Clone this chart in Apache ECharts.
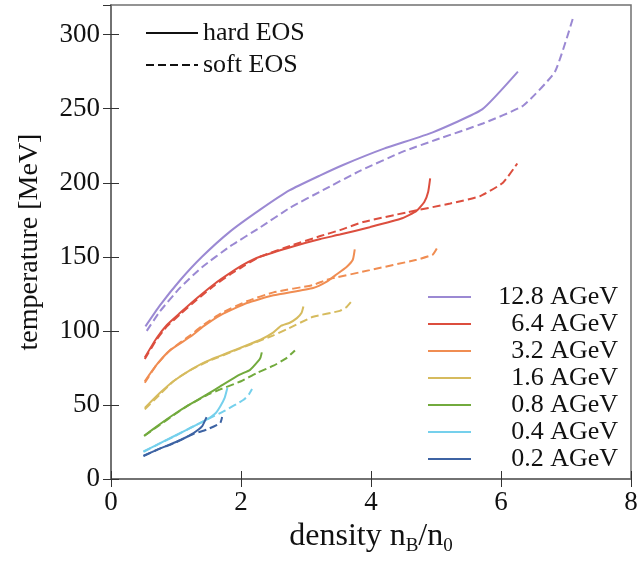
<!DOCTYPE html>
<html>
<head>
<meta charset="utf-8">
<script src="https://cdn.jsdelivr.net/npm/echarts@6/dist/echarts.min.js"></script>
<style>
  html, body { margin: 0; padding: 0; background: #ffffff; }
  #chart { width: 641px; height: 562px; }
</style>
</head>
<body>
<div id="chart"></div>
<script>
// Beam energies, top to bottom in the legend
const energies = ['12.8 AGeV', '6.4 AGeV', '3.2 AGeV', '1.6 AGeV', '0.8 AGeV', '0.4 AGeV', '0.2 AGeV'];
const colors = ['#9b89d3', '#dc4e3e', '#f08d52', '#d6bb5e', '#72aa3d', '#75d0ec', '#3d63a3'];

// Trajectories: [density n_B/n_0, temperature MeV]
const hard_12_8 = [[0.53,103],[0.75,117],[1.06,134],[1.4,150],[1.83,167],[2.3,182],[2.75,195],[3.22,205],[3.57,212],[4.2,223],[4.95,234],[5.71,249.5],[6.26,275]];
const soft_12_8 = [[0.55,100],[0.75,113],[1.06,129],[1.4,143],[1.83,157],[2.3,170],[2.75,183],[3.26,195],[3.83,208],[4.49,221],[5.0,229],[5.72,240],[6.34,252],[6.83,275],[7.12,313]];

const hard_6_4 = [[0.52,82],[0.7,95],[0.86,104],[1.06,112],[1.32,122],[1.6,132],[1.83,139],[2.05,145],[2.29,150],[2.8,157],[3.22,162],[3.52,165],[3.98,170],[4.48,176],[4.7,181],[4.82,187],[4.88,194],[4.91,203]];
const soft_6_4 = [[0.52,81],[0.7,94],[0.86,103],[1.06,111],[1.32,121],[1.6,131],[1.83,138],[2.05,144],[2.29,150],[2.8,158],[3.22,164],[3.52,168],[3.88,173.5],[4.55,180],[5.22,186],[5.68,191],[6.03,200],[6.25,213]];

const hard_3_2 = [[0.52,66],[0.7,77],[0.91,87],[1.22,96],[1.42,103],[1.7,111],[2.09,118.8],[2.5,124],[3.11,129],[3.32,133.3],[3.45,137.5],[3.62,143],[3.72,148],[3.75,155]];
const soft_3_2 = [[0.52,65],[0.7,77],[0.91,87],[1.22,97],[1.42,104],[1.7,112],[2.09,120],[2.5,126],[3.11,131],[3.32,134.5],[3.98,141],[4.7,148],[4.95,151.5],[5.03,157]];

const hard_1_6 = [[0.52,48],[0.75,58],[0.96,66],[1.2,73],[1.47,79.4],[1.98,88.4],[2.3,94],[2.5,99],[2.62,103.5],[2.75,105.5],[2.86,108.6],[2.93,112],[2.96,116.5]];
const soft_1_6 = [[0.52,47],[0.75,57],[0.96,66],[1.2,73],[1.47,79],[1.98,88],[2.5,97],[2.7,101],[3.11,109.5],[3.52,113.5],[3.62,116],[3.7,120]];

const hard_0_8 = [[0.51,29.2],[0.75,37],[0.96,43.4],[1.2,50],[1.47,56.9],[1.68,62.5],[1.98,70.4],[2.14,73.7],[2.26,79.4],[2.3,82],[2.32,85.5]];
const soft_0_8 = [[0.51,29],[0.75,36.5],[0.96,43],[1.2,50],[1.47,56.5],[1.68,60.5],[2.0,66],[2.24,71.5],[2.5,76.5],[2.7,81.6],[2.83,86.8]];

const hard_0_4 = [[0.5,18.6],[0.75,24],[0.96,28.7],[1.2,34],[1.47,40],[1.6,44],[1.68,49],[1.75,55],[1.79,61.4]];
const soft_0_4 = [[0.5,18.3],[0.75,24],[0.96,28.5],[1.2,34],[1.47,40],[1.73,45.6],[2.04,53.5],[2.12,57],[2.17,60.7]];

const hard_0_2 = [[0.5,15.7],[0.75,20.5],[0.96,24.3],[1.1,27],[1.27,31],[1.4,35.5],[1.47,41.8]];
const soft_0_2 = [[0.5,15.5],[0.75,20.5],[0.96,24],[1.27,30.5],[1.47,33.3],[1.68,37.8],[1.71,41.8]];

const hardSets = [hard_12_8, hard_6_4, hard_3_2, hard_1_6, hard_0_8, hard_0_4, hard_0_2];
const softSets = [soft_12_8, soft_6_4, soft_3_2, soft_1_6, soft_0_8, soft_0_4, soft_0_2];

// Axis ticks
const xTicks = [0, 2, 4, 6, 8];
const yTicks = [0, 50, 100, 150, 200, 250, 300];

const FONT = '"Liberation Serif", "Times New Roman", serif';
const DASH = [8, 4];
const frame = '#707070';

const series = [];
energies.forEach((name, i) => {
  series.push({
    name, type: 'line', data: hardSets[i], symbol: 'none',
    smooth: 0.15,
    color: colors[i],
    lineStyle: { width: 2, color: colors[i], type: 'solid' },
    xAxisIndex: 0, yAxisIndex: 0, z: 3
  });
  series.push({
    name, type: 'line', data: softSets[i], symbol: 'none',
    smooth: 0.15,
    color: colors[i],
    lineStyle: { width: 2, color: colors[i], type: DASH },
    xAxisIndex: 0, yAxisIndex: 0, z: 3
  });
});
// Line-style key entries
series.push({ name: 'hard EOS', type: 'line', data: [], symbol: 'none', color: '#111',
  lineStyle: { width: 2, color: '#111', type: 'solid' } });
series.push({ name: 'soft EOS', type: 'line', data: [], symbol: 'none', color: '#111',
  lineStyle: { width: 2, color: '#111', type: DASH } });

const tickLabel = { fontFamily: FONT, fontSize: 27, color: '#111' };

const option = {
  animation: false,
  backgroundColor: '#ffffff',
  grid: { left: 111, right: 10, top: 5, bottom: 83, show: true, borderColor: frame, borderWidth: 1.5 },
  legend: [
    {
      data: ['hard EOS', 'soft EOS'],
      orient: 'vertical', left: 140, top: 15,
      itemWidth: 52, itemHeight: 14, itemGap: 6, itemTextGap: 8,
      itemStyle: { opacity: 0 },
      textStyle: { fontFamily: FONT, fontSize: 26, color: '#111', lineHeight: 26 },
      selectedMode: false
    },
    {
      data: energies,
      orient: 'vertical', left: 422, top: 279,
      itemWidth: 43, itemHeight: 14, itemGap: 1, itemTextGap: 5,
      itemStyle: { opacity: 0 },
      formatter: n => '{t|' + n + '}',
      textStyle: {
        fontFamily: FONT, fontSize: 26, color: '#111', lineHeight: 26,
        rich: { t: { width: 142, align: 'right', fontFamily: FONT, fontSize: 26, color: '#111', lineHeight: 26 } }
      },
      selectedMode: false
    }
  ],
  xAxis: [
    {
      type: 'value', min: xTicks[0], max: xTicks[xTicks.length - 1], interval: 2, position: 'bottom',
      name: '{a|density n}{b|B}{a|/n}{b|0}', nameLocation: 'middle', nameGap: 36,
      nameTextStyle: {
        rich: {
          a: { fontFamily: FONT, fontSize: 32, color: '#111', lineHeight: 34, verticalAlign: 'top' },
          b: { fontFamily: FONT, fontSize: 19, color: '#111', lineHeight: 18, padding: [16, 0, 0, 0], verticalAlign: 'top' }
        }
      },
      axisLine: { show: true, lineStyle: { color: frame, width: 1.5 } },
      axisTick: { show: true, inside: true, length: 8, lineStyle: { color: '#333', width: 1 } },
      axisLabel: Object.assign({ margin: 10 }, tickLabel),
      splitLine: { show: false }
    },
    {
      type: 'value', min: xTicks[0], max: xTicks[xTicks.length - 1], interval: 2, position: 'top',
      axisLine: { show: true, lineStyle: { color: frame, width: 1.5 } },
      axisTick: { show: true, inside: true, length: 8, lineStyle: { color: '#333', width: 1 } },
      axisLabel: { show: false }, splitLine: { show: false }
    }
  ],
  yAxis: [
    {
      type: 'value', min: yTicks[0], max: 320, interval: 50, position: 'left',
      name: 'temperature [MeV]', nameLocation: 'middle', nameGap: 67, nameRotate: 90,
      nameTextStyle: { fontFamily: FONT, fontSize: 28, color: '#111' },
      axisLine: { show: true, lineStyle: { color: frame, width: 1.5 } },
      axisTick: { show: true, inside: true, length: 8, lineStyle: { color: '#333', width: 1 } },
      axisLabel: Object.assign({ margin: 11, showMaxLabel: false,
        formatter: v => (yTicks.indexOf(v) >= 0 ? String(v) : '') }, tickLabel),
      splitLine: { show: false }
    },
    {
      type: 'value', min: yTicks[0], max: 320, interval: 50, position: 'right',
      axisLine: { show: true, lineStyle: { color: frame, width: 1.5 } },
      axisTick: { show: true, inside: true, length: 8, lineStyle: { color: '#333', width: 1 } },
      axisLabel: { show: false }, splitLine: { show: false }
    }
  ],
  series
};

const chart = echarts.init(document.getElementById('chart'), null, { renderer: 'canvas' });
chart.setOption(option);
</script>
</body>
</html>
